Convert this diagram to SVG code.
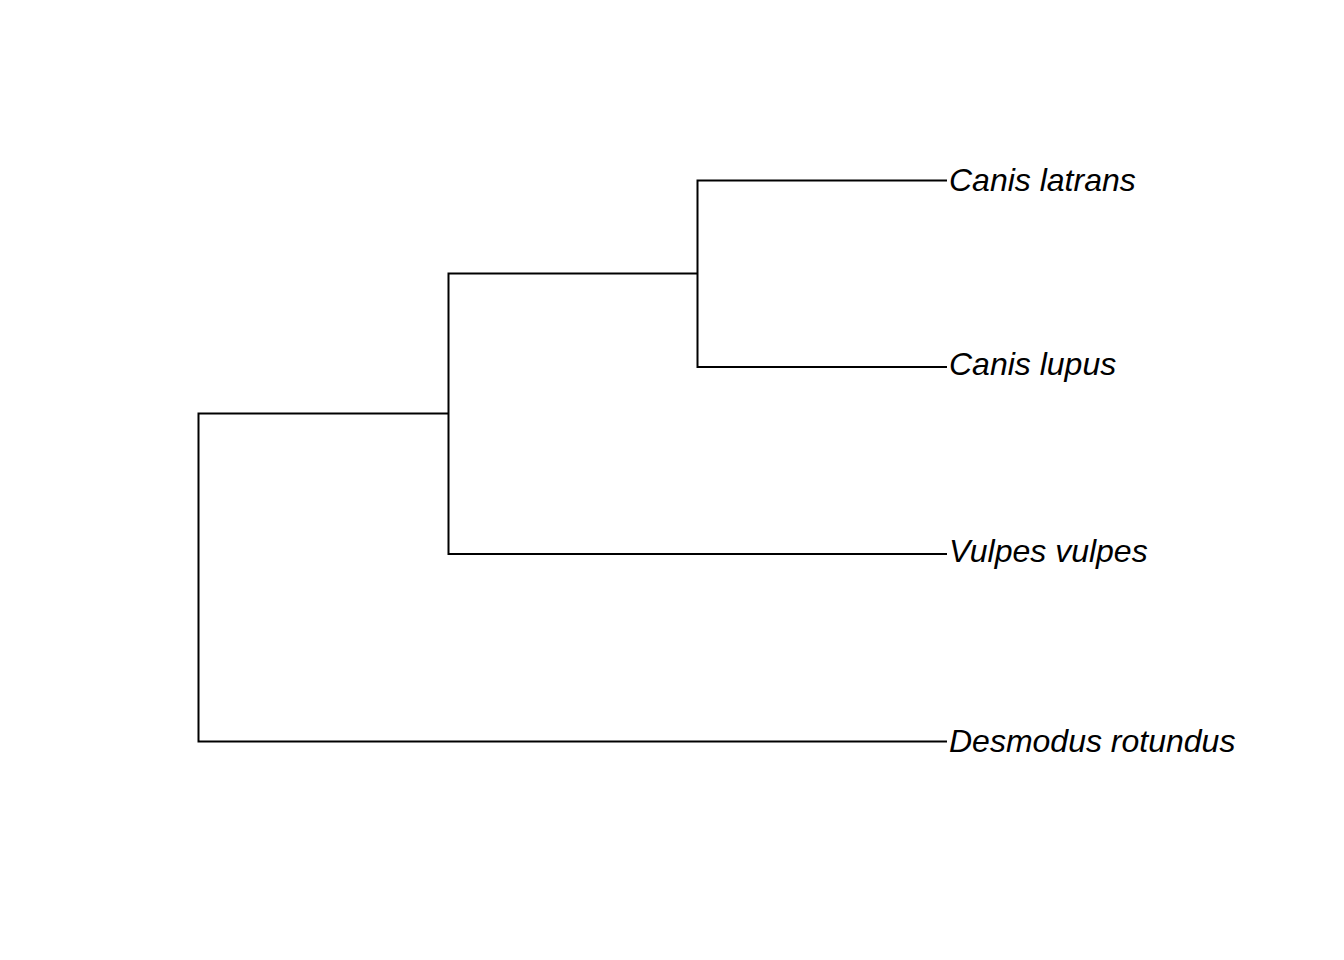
<svg xmlns="http://www.w3.org/2000/svg" width="1344" height="960" viewBox="0 0 1344 960">
<style>
.e{stroke:#000;stroke-width:2;fill:none;stroke-linecap:butt}
.t{font-family:"Liberation Sans",Arial,sans-serif;font-style:italic;font-size:32px;fill:#000}
</style>
<rect width="1344" height="960" fill="#fff"/>
<g id="connectors">
<path class="e" d="M198.5,413.5V741.5M197.5,413.5H448.5M448.5,272.5V554.5M447.5,273.5H697.5M697.5,179.5V367.5M696.5,180.5H947M696.5,367H947M447.5,554H947M197.5,741.5H947"/>
</g>
<g id="canis_latrans"><text class="t" x="949" y="191">Canis latrans</text></g>
<g id="canis_lupus"><text class="t" x="949" y="375">Canis lupus</text></g>
<g id="vulpes_vulpes"><text class="t" x="949" y="562">Vulpes vulpes</text></g>
<g id="desmodus_rotundus"><text class="t" x="949" y="752">Desmodus rotundus</text></g>
</svg>
